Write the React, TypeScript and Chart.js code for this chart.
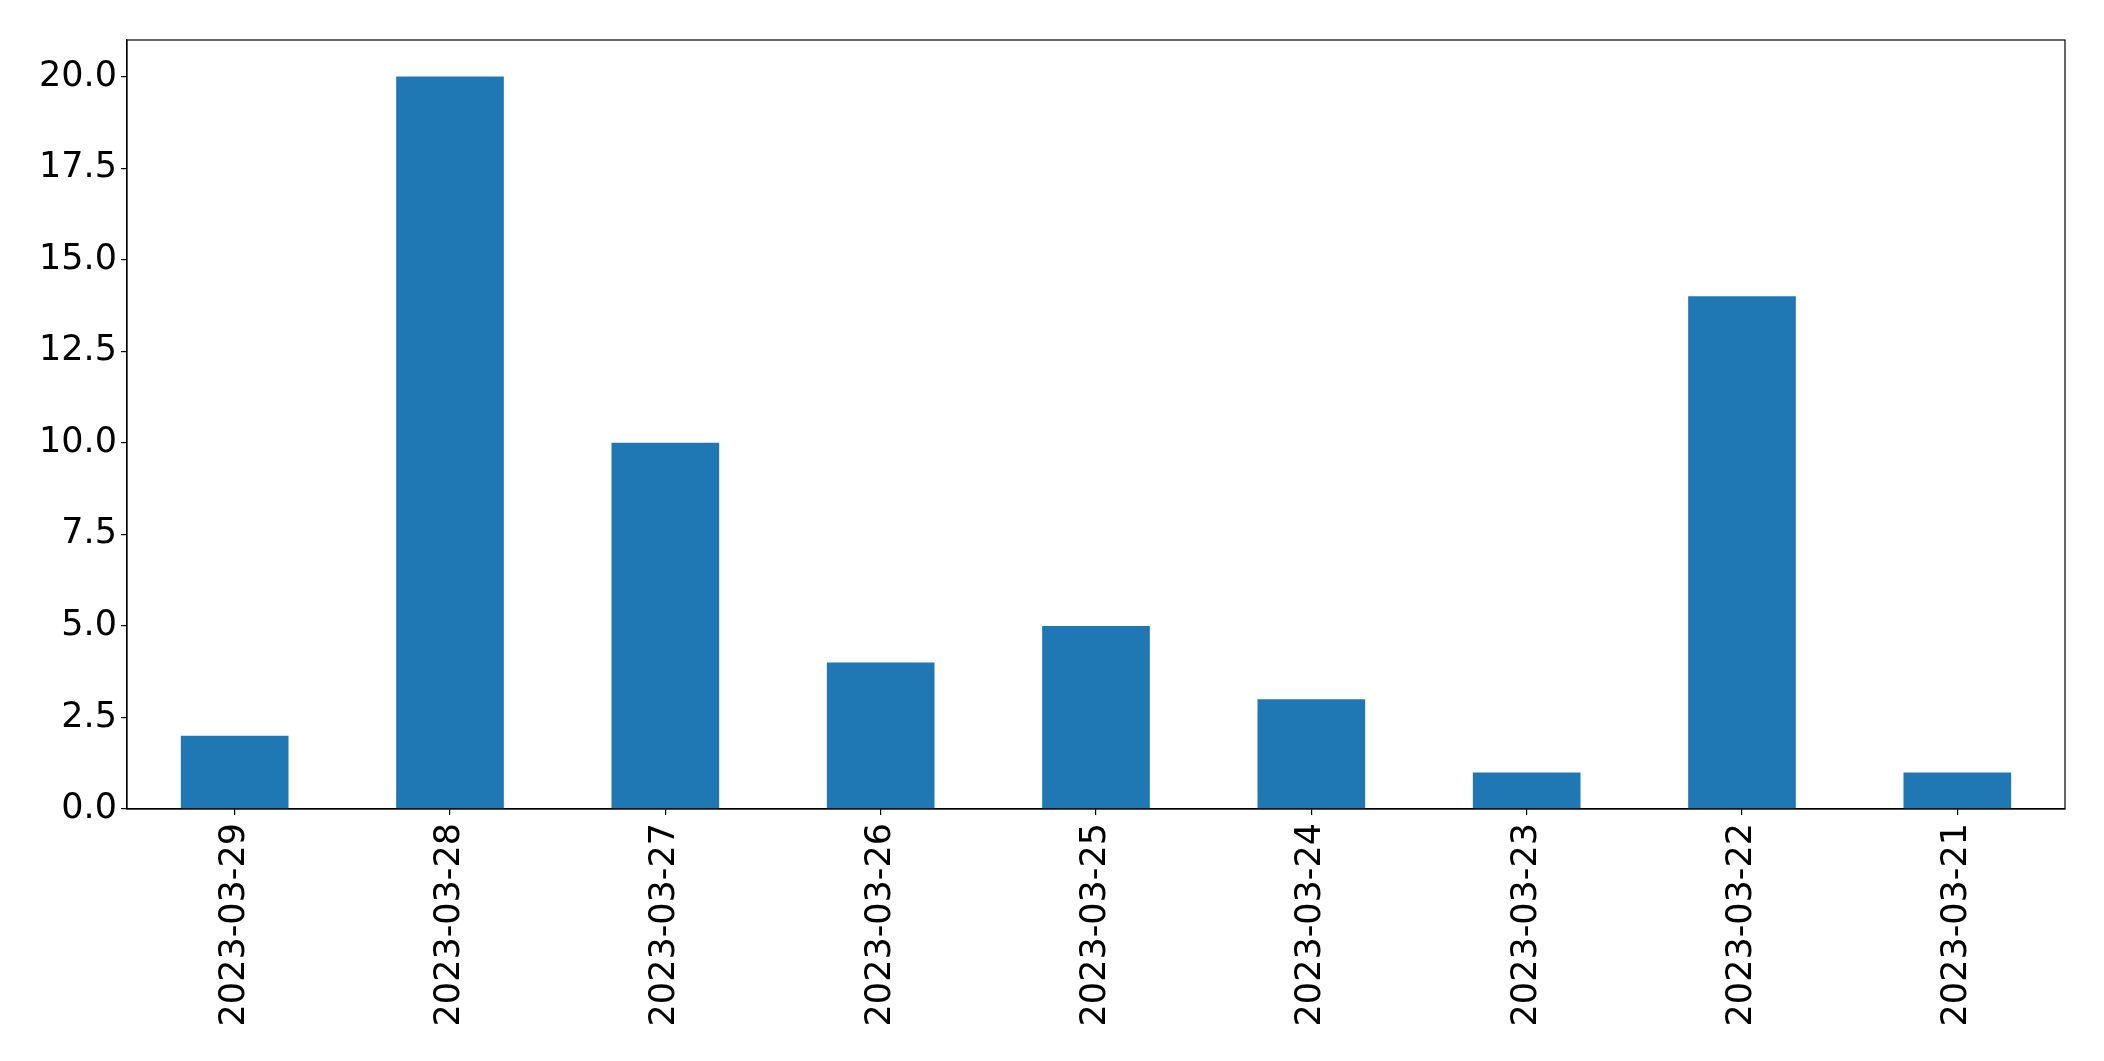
import React, { useEffect, useRef } from "react";
import { Chart, registerables } from "chart.js";

Chart.register(...registerables);

const categories = [
  "2023-03-29",
  "2023-03-28",
  "2023-03-27",
  "2023-03-26",
  "2023-03-25",
  "2023-03-24",
  "2023-03-23",
  "2023-03-22",
  "2023-03-21",
];
const values = [2, 20, 10, 4, 5, 3, 1, 14, 1];
const yTicks = [0, 2.5, 5, 7.5, 10, 12.5, 15, 17.5, 20];

const W = 2104;
const H = 1061;
const LEFT = 127;
const TOP = 40;
const RIGHT = 2065;
const BOTTOM = 809;

const frame = {
  id: "frame",
  afterDraw(chart: any) {
    const { ctx, chartArea } = chart;
    ctx.save();
    ctx.strokeStyle = "#000";
    ctx.lineWidth = 1.2;
    ctx.strokeRect(
      chartArea.left,
      chartArea.top,
      chartArea.right - chartArea.left,
      chartArea.bottom - chartArea.top
    );
    ctx.restore();
  },
};

export default function App() {
  const ref = useRef<HTMLCanvasElement | null>(null);
  useEffect(() => {
    document.body.style.margin = "0";
    const font = { family: "'DejaVu Sans', sans-serif", size: 35 };
    const chart = new Chart(ref.current as HTMLCanvasElement, {
      type: "bar",
      data: {
        labels: categories,
        datasets: [
          {
            data: values,
            backgroundColor: "#1f77b4",
            barPercentage: 0.5,
            categoryPercentage: 1,
          },
        ],
      },
      options: {
        animation: false,
        responsive: false,
        layout: { padding: { left: 0, top: TOP, right: W - RIGHT, bottom: 0 } },
        plugins: { legend: { display: false }, tooltip: { enabled: false } },
        scales: {
          x: {
            type: "category",
            offset: true,
            grid: {
              display: true,
              offset: false,
              drawOnChartArea: false,
              drawTicks: true,
              tickLength: 6,
              color: "#000",
              lineWidth: 1.2,
            },
            border: { display: true, color: "#000", width: 1.2 },
            ticks: {
              font,
              color: "#000",
              maxRotation: 90,
              minRotation: 90,
              padding: 8,
              autoSkip: false,
            },
            afterFit(scale: any) {
              scale.height = H - BOTTOM;
            },
          },
          y: {
            min: 0,
            max: 21,
            grid: {
              display: true,
              drawOnChartArea: false,
              drawTicks: true,
              tickLength: 6,
              color: "#000",
              lineWidth: 1.2,
            },
            border: { display: true, color: "#000", width: 1.2 },
            ticks: {
              font,
              color: "#000",
              padding: 4,
              callback: (v: any) => Number(v).toFixed(1),
            },
            afterBuildTicks(scale: any) {
              scale.ticks = yTicks.map((v) => ({ value: v }));
            },
            afterFit(scale: any) {
              scale.width = LEFT;
            },
          },
        },
      },
      plugins: [frame],
    });
    return () => chart.destroy();
  }, []);
  return <canvas ref={ref} width={W} height={H} style={{ display: "block" }} />;
}
